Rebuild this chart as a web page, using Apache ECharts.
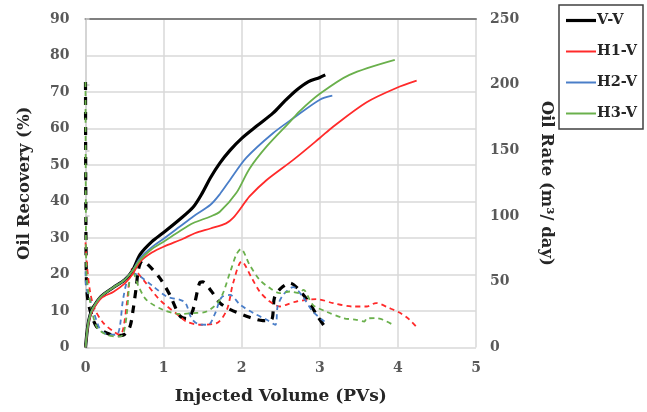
<!DOCTYPE html>
<html><head><meta charset="utf-8">
<script src="https://cdn.jsdelivr.net/npm/echarts@6/dist/echarts.min.js"></script>
<style>html,body{margin:0;padding:0;background:#fff}#c{width:647px;height:412px}</style>
</head><body><div id="c"></div>
<script>
// x ticks (PVs), left ticks (%), right ticks (m3/day)
const xTicks = [0,1,2,3,4,5];
const leftTicks = [0,10,20,30,40,50,60,70,80,90];
const rightTicks = [0,50,100,150,200,250];
const names = ['V-V','H1-V','H2-V','H3-V'];
const colors = ['#000000','#ff2a2a','#4a7ec8','#6ab04c'];

// Oil recovery (%) vs injected volume (PVs)
const recVV = [[0,0],[0.03,6],[0.06,9],[0.1,11],[0.2,14],[0.36,16.5],[0.5,18.5],[0.6,21],[0.7,25.5],[0.85,29],[1.0,31.5],[1.2,35],[1.38,38.5],[1.5,42.5],[1.6,46.5],[1.72,50.5],[1.85,54],[2.0,57.3],[2.2,60.8],[2.4,64.2],[2.55,67.5],[2.7,70.5],[2.85,72.8],[3.0,74],[3.07,74.7]];
const recH1 = [[0,0],[0.03,5.5],[0.06,8.5],[0.1,10.5],[0.2,13.5],[0.36,15.3],[0.5,17.5],[0.6,20],[0.7,23.5],[0.85,26],[1.0,27.6],[1.25,29.8],[1.4,31.3],[1.6,32.6],[1.8,34],[1.89,35.5],[2.0,38.5],[2.1,41.4],[2.32,45.9],[2.66,51.4],[3.0,57.4],[3.17,60.5],[3.6,67.2],[3.98,71.1],[4.24,73.1]];
const recH2 = [[0,0],[0.03,6],[0.06,9],[0.1,11],[0.2,14],[0.36,16.5],[0.5,18.5],[0.6,21],[0.7,24.5],[0.85,27.5],[1.0,29.8],[1.2,33],[1.38,35.9],[1.6,39.1],[1.72,42],[1.85,45.9],[2.06,52],[2.4,58.7],[2.66,62.8],[3.0,67.9],[3.16,69]];
const recH3 = [[0,0],[0.03,6],[0.06,9],[0.1,11],[0.2,14],[0.36,16.5],[0.5,18.5],[0.6,21],[0.7,24],[0.85,27],[1.0,29],[1.2,31.8],[1.38,34.1],[1.6,35.9],[1.72,37.2],[1.93,42.3],[2.1,49],[2.32,55.1],[2.62,61.9],[2.74,64.7],[3.0,69.5],[3.38,74.7],[3.96,78.8]];

// Oil rate (m3/day) vs injected volume (PVs)
const rateVV = [[0,202],[0.004,110],[0.012,50],[0.03,36],[0.06,28],[0.14,16],[0.27,11],[0.4,9],[0.5,10],[0.57,16],[0.61,29],[0.65,46],[0.68,60],[0.73,66],[0.8,63],[0.95,53],[1.08,40],[1.21,24],[1.3,22],[1.36,26],[1.4,34],[1.46,49],[1.5,50],[1.61,43],[1.72,34],[1.85,29],[2.1,23],[2.27,20.5],[2.38,21],[2.42,38],[2.5,45],[2.62,49],[2.7,46],[2.83,37],[2.98,23],[3.05,17]];
const rateH1 = [[0,80],[0.02,62],[0.06,42],[0.12,29],[0.23,18.6],[0.36,12.2],[0.44,9.7],[0.48,13.5],[0.53,33.8],[0.57,56],[0.6,60],[0.74,51.5],[0.95,36.3],[1.21,23.6],[1.29,19.8],[1.46,17.3],[1.68,18.6],[1.81,28.7],[1.89,49],[2.0,65.5],[2.13,52.8],[2.23,42.6],[2.36,35],[2.49,31.2],[2.57,32.5],[2.7,35],[2.96,36.8],[3.17,33.8],[3.42,31.2],[3.6,31.2],[3.72,33.8],[3.89,30],[4.02,26.6],[4.15,21.1],[4.24,15.5]];
const rateH2 = [[0,58],[0.01,46],[0.08,32.5],[0.19,13.5],[0.31,9.7],[0.4,9.7],[0.44,16],[0.48,36.3],[0.55,54],[0.61,56.6],[0.7,54],[0.87,46.4],[1.04,38.8],[1.21,36.3],[1.28,34],[1.36,22],[1.46,17.5],[1.57,17.3],[1.66,26],[1.74,38],[1.85,40],[1.98,32.5],[2.15,26.2],[2.32,21.1],[2.43,17.3],[2.46,31.2],[2.53,40],[2.66,46],[2.79,38],[2.91,27.4],[3.06,19.8]];
const rateH3 = [[0,202],[0.004,110],[0.012,58],[0.04,41.4],[0.14,16],[0.27,9.7],[0.42,8.4],[0.48,9.7],[0.53,26.2],[0.57,55],[0.6,58],[0.68,46.4],[0.78,36.3],[0.99,28.7],[1.21,25.5],[1.38,26.2],[1.55,27.4],[1.72,36.3],[1.85,57],[1.93,70.6],[1.99,75],[2.1,63],[2.23,51.5],[2.36,45.2],[2.49,41.4],[2.62,42.6],[2.74,41.4],[2.79,43.9],[2.91,32.5],[3.08,27.4],[3.3,22.4],[3.47,21.1],[3.57,19.8],[3.6,22],[3.72,22.4],[3.81,21.1],[3.96,16.5]];

const recData = [recVV, recH1, recH2, recH3];
const rateData = [rateVV, rateH1, rateH2, rateH3];

const FONT = 'DejaVu Serif';
const series = [];
recData.forEach((d,i)=>{
  series.push({name:names[i], type:'line', data:d, yAxisIndex:0, symbol:'none', smooth:0.3, z:3,
    lineStyle:{color:colors[i], width:i===0?3.2:1.8}, itemStyle:{color:colors[i]}});
});
rateData.forEach((d,i)=>{
  series.push({name:names[i]+' rate', type:'line', data:d, yAxisIndex:1, symbol:'none', smooth:0.3, z:2,
    lineStyle:{color:colors[i], width:i===0?3.2:1.8, type:i===0?[8,7]:[5,4]}, itemStyle:{color:colors[i]}});
});

const legendData = names.map((n,i)=>({name:n, icon: i===0 ? 'path://M0,0H30V3.2H0Z' : 'path://M0,0H30V2H0Z'}));

const chart = echarts.init(document.getElementById('c'));
chart.setOption({
  animation:false,
  backgroundColor:'#fff',
  grid:{left:85.5, right:171, top:19, bottom:64.5},
  legend:{data:legendData, orient:'vertical', left:559, top:5, padding:[8,6,8,7],
    itemWidth:30, itemHeight:14, itemGap:16, borderColor:'#404040', borderWidth:1.5,
    textStyle:{fontFamily:FONT, fontWeight:'bold', fontSize:14.5, color:'#262626', padding:[0,0,0,-4]}},
  xAxis:[{type:'value', min:xTicks[0], max:xTicks[xTicks.length-1], interval:1,
    name:'Injected Volume (PVs)', nameLocation:'middle', nameGap:41,
    nameTextStyle:{fontFamily:FONT, fontWeight:'bold', fontSize:17, color:'#262626'},
    axisLine:{show:false}, axisTick:{show:false},
    axisLabel:{fontFamily:FONT, fontWeight:'bold', fontSize:14, color:'#595959', margin:14},
    splitLine:{show:true, lineStyle:{color:'#d9d9d9', width:1.5}}},
   {type:'value', position:'top', min:0, max:5, axisLine:{show:true, onZero:false, lineStyle:{color:'#7f7f7f', width:2}},
    axisTick:{show:false}, axisLabel:{show:false}, splitLine:{show:false}}],
  yAxis:[{type:'value', min:leftTicks[0], max:leftTicks[leftTicks.length-1], interval:10,
    name:'Oil Recovery (%)', nameLocation:'middle', nameRotate:90, nameGap:52,
    nameTextStyle:{fontFamily:FONT, fontWeight:'bold', fontSize:16.5, color:'#262626'},
    axisLine:{show:false}, axisTick:{show:false},
    axisLabel:{fontFamily:FONT, fontWeight:'bold', fontSize:14, color:'#595959', margin:16},
    splitLine:{show:true, lineStyle:{color:'#d9d9d9', width:1.5}}},
   {type:'value', min:rightTicks[0], max:rightTicks[rightTicks.length-1], interval:50, position:'right',
    name:'Oil Rate (m³/ day)', nameLocation:'middle', nameRotate:-90, nameGap:62,
    nameTextStyle:{fontFamily:FONT, fontWeight:'bold', fontSize:16.5, color:'#262626'},
    axisLine:{show:true, lineStyle:{color:'#d0d0d0', width:1.5}},
    axisTick:{show:true, length:4, lineStyle:{color:'#d0d0d0', width:1.5}},
    axisLabel:{fontFamily:FONT, fontWeight:'bold', fontSize:14, color:'#595959', margin:14},
    splitLine:{show:false}}],
  series:series
});
</script></body></html>
